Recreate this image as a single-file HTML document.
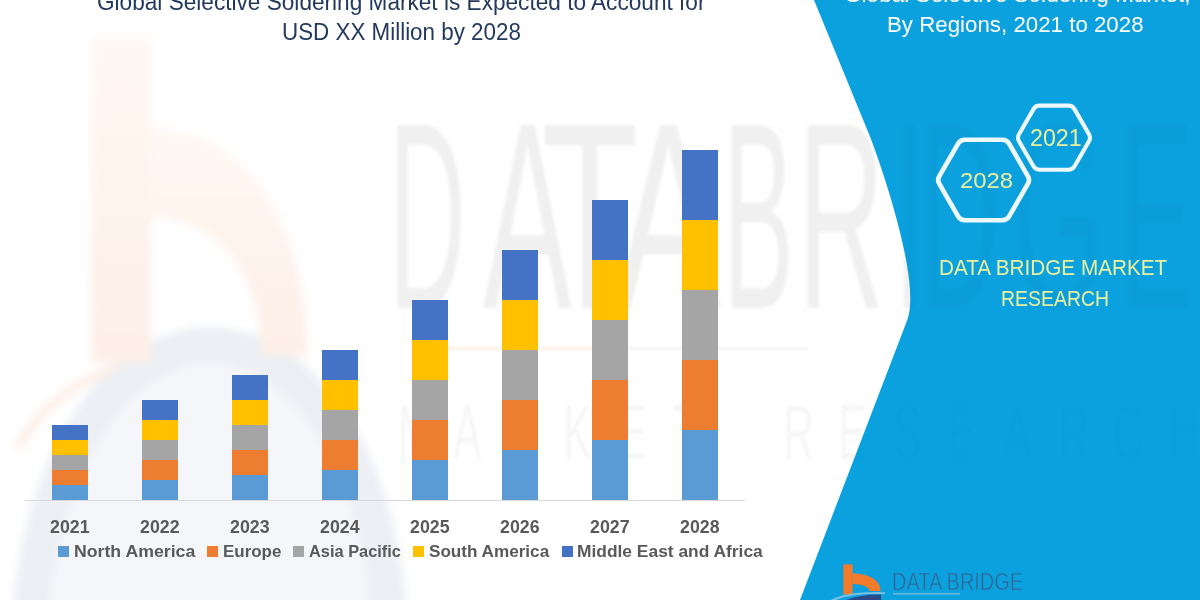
<!DOCTYPE html>
<html><head><meta charset="utf-8">
<style>
html,body{margin:0;padding:0;}
body{width:1200px;height:600px;overflow:hidden;background:#fff;position:relative;font-family:"Liberation Sans",sans-serif;}
.a{position:absolute;}
.bar{position:absolute;width:36px;}
.t{position:absolute;white-space:nowrap;line-height:1;transform-origin:0 0;}
</style></head>
<body>
<svg class="a" style="left:0;top:0" width="1200" height="600" viewBox="0 0 1200 600">
<defs><linearGradient id="og" x1="0" y1="0" x2="0" y2="1"><stop offset="0" stop-color="#FFF8F4"/><stop offset="1" stop-color="#FDEFE6"/></linearGradient><filter id="bl" x="-20%" y="-20%" width="140%" height="140%"><feGaussianBlur stdDeviation="4"/></filter></defs>
<g filter="url(#bl)">
<ellipse cx="210" cy="645" rx="180" ry="300" fill="#F5F6F9"/>
<ellipse cx="210" cy="645" rx="180" ry="300" fill="none" stroke="#ECEFF4" stroke-width="36"/>
<g fill="url(#og)">
<rect x="91" y="38" width="60" height="325"/>
<path d="M150,128 C240,128 307,215 307,356 L262,356 C262,280 222,218 150,218 Z"/>
<path d="M18,448 Q45,395 115,368" fill="none" stroke="#FDEFE6" stroke-width="9"/>
</g>
</g>
<g fill="#F3F3F3" filter="url(#bl)"></g>
</svg>
<div class="a" style="left:0;top:0;width:1200px;height:600px;overflow:hidden;filter:blur(1.5px)"><div class="t" style="left:389.2px;top:82.8px;font-size:266px;transform:scaleX(0.4);color:rgba(0,0,0,0.04)">D</div><div class="t" style="left:483.0px;top:82.8px;font-size:266px;transform:scaleX(0.5);color:rgba(0,0,0,0.04)">A</div><div class="t" style="left:541.4px;top:82.8px;font-size:266px;transform:scaleX(0.6);color:rgba(0,0,0,0.04)">T</div><div class="t" style="left:615.0px;top:82.8px;font-size:266px;transform:scaleX(0.6);color:rgba(0,0,0,0.04)">A</div><div class="t" style="left:723.2px;top:82.8px;font-size:266px;transform:scaleX(0.4);color:rgba(0,0,0,0.04)">B</div><div class="t" style="left:798.1px;top:82.8px;font-size:266px;transform:scaleX(0.45);color:rgba(0,0,0,0.04)">R</div><div class="t" style="left:892.8px;top:82.8px;font-size:266px;transform:scaleX(0.45);color:rgba(0,0,0,0.04)">I</div><div class="t" style="left:918.8px;top:82.8px;font-size:266px;transform:scaleX(0.42);color:rgba(0,0,0,0.04)">D</div><div class="t" style="left:1012.1px;top:82.8px;font-size:266px;transform:scaleX(0.45);color:rgba(0,0,0,0.04)">G</div><div class="t" style="left:1118.8px;top:82.8px;font-size:266px;transform:scaleX(0.42);color:rgba(0,0,0,0.04)">E</div></div>
<div class="a" style="left:0;top:0;width:1200px;height:600px;overflow:hidden;filter:blur(1.2px)"><div class="t" style="left:398px;top:393.0px;font-size:78px;transform:scaleX(0.55);color:rgba(0,0,0,0.025)">M</div><div class="t" style="left:453px;top:393.0px;font-size:78px;transform:scaleX(0.55);color:rgba(0,0,0,0.025)">A</div><div class="t" style="left:508px;top:393.0px;font-size:78px;transform:scaleX(0.55);color:rgba(0,0,0,0.025)">R</div><div class="t" style="left:563px;top:393.0px;font-size:78px;transform:scaleX(0.55);color:rgba(0,0,0,0.025)">K</div><div class="t" style="left:618px;top:393.0px;font-size:78px;transform:scaleX(0.55);color:rgba(0,0,0,0.025)">E</div><div class="t" style="left:673px;top:393.0px;font-size:78px;transform:scaleX(0.55);color:rgba(0,0,0,0.025)">T</div><div class="t" style="left:783px;top:393.0px;font-size:78px;transform:scaleX(0.55);color:rgba(0,0,0,0.025)">R</div><div class="t" style="left:838px;top:393.0px;font-size:78px;transform:scaleX(0.55);color:rgba(0,0,0,0.025)">E</div><div class="t" style="left:893px;top:393.0px;font-size:78px;transform:scaleX(0.55);color:rgba(0,0,0,0.025)">S</div><div class="t" style="left:948px;top:393.0px;font-size:78px;transform:scaleX(0.55);color:rgba(0,0,0,0.025)">E</div><div class="t" style="left:1003px;top:393.0px;font-size:78px;transform:scaleX(0.55);color:rgba(0,0,0,0.025)">A</div><div class="t" style="left:1058px;top:393.0px;font-size:78px;transform:scaleX(0.55);color:rgba(0,0,0,0.025)">R</div><div class="t" style="left:1113px;top:393.0px;font-size:78px;transform:scaleX(0.55);color:rgba(0,0,0,0.025)">C</div><div class="t" style="left:1168px;top:393.0px;font-size:78px;transform:scaleX(0.55);color:rgba(0,0,0,0.025)">H</div><div class="a" style="left:448px;top:347px;width:180px;height:3px;background:#FDF0E8"></div><div class="a" style="left:628px;top:347px;width:180px;height:3px;background:#F2F4F7"></div></div>
<svg class="a" style="left:0;top:0" width="1200" height="600" viewBox="0 0 1200 600">
<path d="M814,0 L869.14,134.5 C877.61,155.16 922.29,280.70 907.18,320.15 L800,600 L1200,600 L1200,0 Z" fill="#0BA1DF"/>
</svg>
<div class="a" style="left:0;top:0;width:1200px;height:600px;overflow:hidden;filter:blur(1.5px)"><div class="t" style="left:389.2px;top:82.8px;font-size:266px;transform:scaleX(0.4);color:rgba(0,0,0,0.02)">D</div><div class="t" style="left:483.0px;top:82.8px;font-size:266px;transform:scaleX(0.5);color:rgba(0,0,0,0.02)">A</div><div class="t" style="left:541.4px;top:82.8px;font-size:266px;transform:scaleX(0.6);color:rgba(0,0,0,0.02)">T</div><div class="t" style="left:615.0px;top:82.8px;font-size:266px;transform:scaleX(0.6);color:rgba(0,0,0,0.02)">A</div><div class="t" style="left:723.2px;top:82.8px;font-size:266px;transform:scaleX(0.4);color:rgba(0,0,0,0.02)">B</div><div class="t" style="left:798.1px;top:82.8px;font-size:266px;transform:scaleX(0.45);color:rgba(0,0,0,0.02)">R</div><div class="t" style="left:892.8px;top:82.8px;font-size:266px;transform:scaleX(0.45);color:rgba(0,0,0,0.02)">I</div><div class="t" style="left:918.8px;top:82.8px;font-size:266px;transform:scaleX(0.42);color:rgba(0,0,0,0.02)">D</div><div class="t" style="left:1012.1px;top:82.8px;font-size:266px;transform:scaleX(0.45);color:rgba(0,0,0,0.02)">G</div><div class="t" style="left:1118.8px;top:82.8px;font-size:266px;transform:scaleX(0.42);color:rgba(0,0,0,0.02)">E</div></div><div class="a" style="left:0;top:0;width:1200px;height:600px;overflow:hidden;filter:blur(1.2px)"><div class="t" style="left:398px;top:393.0px;font-size:78px;transform:scaleX(0.55);color:rgba(0,0,0,0.01)">M</div><div class="t" style="left:453px;top:393.0px;font-size:78px;transform:scaleX(0.55);color:rgba(0,0,0,0.01)">A</div><div class="t" style="left:508px;top:393.0px;font-size:78px;transform:scaleX(0.55);color:rgba(0,0,0,0.01)">R</div><div class="t" style="left:563px;top:393.0px;font-size:78px;transform:scaleX(0.55);color:rgba(0,0,0,0.01)">K</div><div class="t" style="left:618px;top:393.0px;font-size:78px;transform:scaleX(0.55);color:rgba(0,0,0,0.01)">E</div><div class="t" style="left:673px;top:393.0px;font-size:78px;transform:scaleX(0.55);color:rgba(0,0,0,0.01)">T</div><div class="t" style="left:783px;top:393.0px;font-size:78px;transform:scaleX(0.55);color:rgba(0,0,0,0.01)">R</div><div class="t" style="left:838px;top:393.0px;font-size:78px;transform:scaleX(0.55);color:rgba(0,0,0,0.01)">E</div><div class="t" style="left:893px;top:393.0px;font-size:78px;transform:scaleX(0.55);color:rgba(0,0,0,0.01)">S</div><div class="t" style="left:948px;top:393.0px;font-size:78px;transform:scaleX(0.55);color:rgba(0,0,0,0.01)">E</div><div class="t" style="left:1003px;top:393.0px;font-size:78px;transform:scaleX(0.55);color:rgba(0,0,0,0.01)">A</div><div class="t" style="left:1058px;top:393.0px;font-size:78px;transform:scaleX(0.55);color:rgba(0,0,0,0.01)">R</div><div class="t" style="left:1113px;top:393.0px;font-size:78px;transform:scaleX(0.55);color:rgba(0,0,0,0.01)">C</div><div class="t" style="left:1168px;top:393.0px;font-size:78px;transform:scaleX(0.55);color:rgba(0,0,0,0.01)">H</div><div class="a" style="left:448px;top:347px;width:180px;height:3px;background:transparent"></div><div class="a" style="left:628px;top:347px;width:180px;height:3px;background:transparent"></div></div>
<div class="a" style="left:25px;top:500px;width:720px;height:1px;background:#D9D9D9"></div>
<div class="bar" style="left:52px;top:485px;height:15px;background:#5B9BD5"></div>
<div class="bar" style="left:52px;top:470px;height:15px;background:#ED7D31"></div>
<div class="bar" style="left:52px;top:455px;height:15px;background:#A5A5A5"></div>
<div class="bar" style="left:52px;top:440px;height:15px;background:#FFC000"></div>
<div class="bar" style="left:52px;top:425px;height:15px;background:#4472C4"></div>
<div class="t" style="left:49.76px;top:517.69px;font-size:18.31px;transform:scaleX(0.9714);font-weight:bold;color:#595959">2021</div>
<div class="bar" style="left:142px;top:480px;height:20px;background:#5B9BD5"></div>
<div class="bar" style="left:142px;top:460px;height:20px;background:#ED7D31"></div>
<div class="bar" style="left:142px;top:440px;height:20px;background:#A5A5A5"></div>
<div class="bar" style="left:142px;top:420px;height:20px;background:#FFC000"></div>
<div class="bar" style="left:142px;top:400px;height:20px;background:#4472C4"></div>
<div class="t" style="left:139.76px;top:517.69px;font-size:18.31px;transform:scaleX(0.9714);font-weight:bold;color:#595959">2022</div>
<div class="bar" style="left:232px;top:475px;height:25px;background:#5B9BD5"></div>
<div class="bar" style="left:232px;top:450px;height:25px;background:#ED7D31"></div>
<div class="bar" style="left:232px;top:425px;height:25px;background:#A5A5A5"></div>
<div class="bar" style="left:232px;top:400px;height:25px;background:#FFC000"></div>
<div class="bar" style="left:232px;top:375px;height:25px;background:#4472C4"></div>
<div class="t" style="left:229.76px;top:517.69px;font-size:18.31px;transform:scaleX(0.9714);font-weight:bold;color:#595959">2023</div>
<div class="bar" style="left:322px;top:470px;height:30px;background:#5B9BD5"></div>
<div class="bar" style="left:322px;top:440px;height:30px;background:#ED7D31"></div>
<div class="bar" style="left:322px;top:410px;height:30px;background:#A5A5A5"></div>
<div class="bar" style="left:322px;top:380px;height:30px;background:#FFC000"></div>
<div class="bar" style="left:322px;top:350px;height:30px;background:#4472C4"></div>
<div class="t" style="left:319.76px;top:517.69px;font-size:18.31px;transform:scaleX(0.9714);font-weight:bold;color:#595959">2024</div>
<div class="bar" style="left:412px;top:460px;height:40px;background:#5B9BD5"></div>
<div class="bar" style="left:412px;top:420px;height:40px;background:#ED7D31"></div>
<div class="bar" style="left:412px;top:380px;height:40px;background:#A5A5A5"></div>
<div class="bar" style="left:412px;top:340px;height:40px;background:#FFC000"></div>
<div class="bar" style="left:412px;top:300px;height:40px;background:#4472C4"></div>
<div class="t" style="left:409.76px;top:517.69px;font-size:18.31px;transform:scaleX(0.9714);font-weight:bold;color:#595959">2025</div>
<div class="bar" style="left:502px;top:450px;height:50px;background:#5B9BD5"></div>
<div class="bar" style="left:502px;top:400px;height:50px;background:#ED7D31"></div>
<div class="bar" style="left:502px;top:350px;height:50px;background:#A5A5A5"></div>
<div class="bar" style="left:502px;top:300px;height:50px;background:#FFC000"></div>
<div class="bar" style="left:502px;top:250px;height:50px;background:#4472C4"></div>
<div class="t" style="left:499.76px;top:517.69px;font-size:18.31px;transform:scaleX(0.9714);font-weight:bold;color:#595959">2026</div>
<div class="bar" style="left:592px;top:440px;height:60px;background:#5B9BD5"></div>
<div class="bar" style="left:592px;top:380px;height:60px;background:#ED7D31"></div>
<div class="bar" style="left:592px;top:320px;height:60px;background:#A5A5A5"></div>
<div class="bar" style="left:592px;top:260px;height:60px;background:#FFC000"></div>
<div class="bar" style="left:592px;top:200px;height:60px;background:#4472C4"></div>
<div class="t" style="left:589.76px;top:517.69px;font-size:18.31px;transform:scaleX(0.9714);font-weight:bold;color:#595959">2027</div>
<div class="bar" style="left:682px;top:430px;height:70px;background:#5B9BD5"></div>
<div class="bar" style="left:682px;top:360px;height:70px;background:#ED7D31"></div>
<div class="bar" style="left:682px;top:290px;height:70px;background:#A5A5A5"></div>
<div class="bar" style="left:682px;top:220px;height:70px;background:#FFC000"></div>
<div class="bar" style="left:682px;top:150px;height:70px;background:#4472C4"></div>
<div class="t" style="left:679.76px;top:517.69px;font-size:18.31px;transform:scaleX(0.9714);font-weight:bold;color:#595959">2028</div>
<div class="a" style="left:58px;top:545.5px;width:11px;height:11px;background:#5B9BD5"></div>
<div class="t" style="left:74.03px;top:542.95px;font-size:17.01px;transform:scaleX(1.0407);color:#595959;font-weight:bold;">North America</div>
<div class="a" style="left:207.1px;top:545.5px;width:11px;height:11px;background:#ED7D31"></div>
<div class="t" style="left:223.47px;top:542.95px;font-size:17.01px;transform:scaleX(0.9971);color:#595959;font-weight:bold;">Europe</div>
<div class="a" style="left:293.3px;top:545.5px;width:11px;height:11px;background:#A5A5A5"></div>
<div class="t" style="left:309.4px;top:542.95px;font-size:17.01px;transform:scaleX(0.9635);color:#595959;font-weight:bold;">Asia Pacific</div>
<div class="a" style="left:412.7px;top:545.5px;width:11px;height:11px;background:#FFC000"></div>
<div class="t" style="left:429.26px;top:542.95px;font-size:17.01px;transform:scaleX(1.0068);color:#595959;font-weight:bold;">South America</div>
<div class="a" style="left:561.6px;top:545.5px;width:11px;height:11px;background:#4472C4"></div>
<div class="t" style="left:577.45px;top:542.95px;font-size:17.01px;transform:scaleX(1.0225);color:#595959;font-weight:bold;">Middle East and Africa</div>
<div class="t" style="left:96.68px;top:-9.02px;font-size:23.62px;transform:scaleX(0.9579);color:#243A5C;">Global Selective Soldering Market is Expected to Account for</div>
<div class="t" style="left:282.1px;top:21.38px;font-size:23.62px;transform:scaleX(0.9482);color:#243A5C;">USD XX Million by 2028</div>
<div class="t" style="left:843.53px;top:-16.46px;font-size:21.8px;transform:scaleX(1.0362);color:#FFFFFF;">Global Selective Soldering Market,</div>
<div class="t" style="left:887.2px;top:14.14px;font-size:21.8px;transform:scaleX(1.0228);color:#FFFFFF;">By Regions, 2021 to 2028</div>
<svg class="a" style="left:0;top:0" width="1200" height="600" viewBox="0 0 1200 600">
<path d="M939.35,183.90 Q937.10,180.00 939.35,176.10 L958.10,143.63 Q960.35,139.73 964.85,139.73 L1002.35,139.73 Q1006.85,139.73 1009.10,143.63 L1027.85,176.10 Q1030.10,180.00 1027.85,183.90 L1009.10,216.37 Q1006.85,220.27 1002.35,220.27 L964.85,220.27 Q960.35,220.27 958.10,216.37 Z" fill="none" stroke="#EEF9FE" stroke-width="4.7" stroke-linejoin="round"/>
<path d="M1019.00,141.16 Q1017.00,137.70 1019.00,134.24 L1033.50,109.12 Q1035.50,105.66 1039.50,105.66 L1068.50,105.66 Q1072.50,105.66 1074.50,109.12 L1089.00,134.24 Q1091.00,137.70 1089.00,141.16 L1074.50,166.28 Q1072.50,169.74 1068.50,169.74 L1039.50,169.74 Q1035.50,169.74 1033.50,166.28 Z" fill="none" stroke="#EEF9FE" stroke-width="4.1" stroke-linejoin="round"/>
</svg>
<div class="t" style="left:959.83px;top:168.76px;font-size:22.97px;transform:scaleX(1.0402);color:#EAF09E;">2028</div>
<div class="t" style="left:1030.26px;top:126.89px;font-size:23.69px;transform:scaleX(0.9793);color:#EAF09E;">2021</div>
<div class="t" style="left:938.74px;top:257.27px;font-size:22.53px;transform:scaleX(0.9199);color:#EAF09E;">DATA BRIDGE MARKET</div>
<div class="t" style="left:1001.45px;top:286.92px;font-size:22.75px;transform:scaleX(0.8548);color:#EAF09E;">RESEARCH</div>
<svg class="a" style="left:0;top:0" width="1200" height="600" viewBox="0 0 1200 600">
<rect x="843.3" y="564.4" width="9.3" height="30" fill="#F47A2C"/>
<path d="M852.6,573.6 C868,573.6 880.5,580 880.5,591 L869.5,591 C869.5,587 862,583.9 852.6,583.9 Z" fill="#F47A2C"/>
<path d="M846,600 Q862,594 881,594.5 L881,600 Z" fill="#2C4A8A"/>
<path d="M831,601 Q848,592 885,593.2" fill="none" stroke="#7CC0E0" stroke-width="2"/>
<rect x="893" y="593" width="67" height="1.6" fill="#6CB4D8"/>
</svg>
<div class="t" style="left:892.17px;top:570.78px;font-size:23.11px;transform:scaleX(0.8623);color:#336690;-webkit-text-stroke:0.5px #0BA1DF;">DATA BRIDGE</div>
</body></html>
